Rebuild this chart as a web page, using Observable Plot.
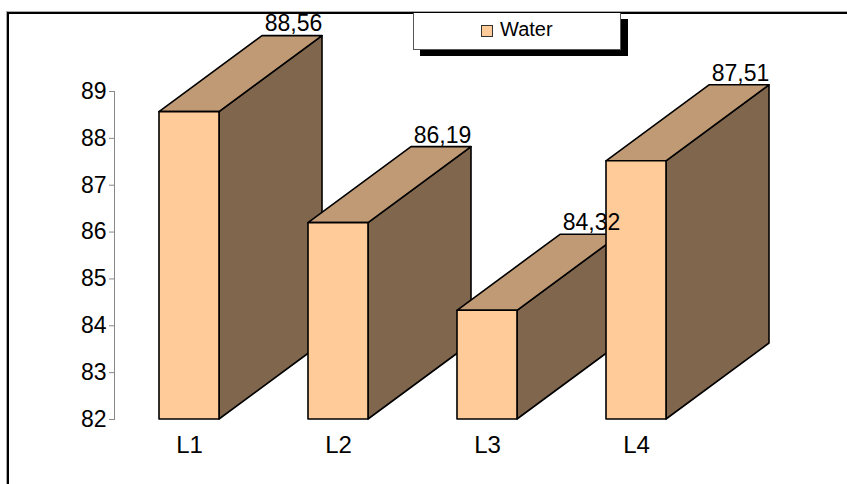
<!DOCTYPE html>
<html><head><meta charset="utf-8">
<script src="https://cdn.jsdelivr.net/npm/d3@7"></script>
<script src="https://cdn.jsdelivr.net/npm/@observablehq/plot@0.6"></script>
<style>
body{margin:0;background:#fff;font-family:"Liberation Sans",Arial,sans-serif;}
#wrap{position:relative;width:847px;height:484px;overflow:hidden;background:#fff;}
#chart{position:absolute;left:0;top:0;}
#frame{position:absolute;left:7px;top:12px;width:1000px;height:1000px;border-top:2px solid #000;border-left:2px solid #000;box-shadow:-1px -1px 0 #aaa;pointer-events:none;}
#legend{position:absolute;left:413px;top:13px;width:206px;height:36px;background:#fff;border:1px solid #555;border-top:none;box-shadow:7px 6px 0 #000;font-size:20px;color:#000;}
#legend .sw{position:absolute;left:67px;top:12px;width:10px;height:10px;background:#FFCC99;border:1px solid #333;}
#legend .lb{position:absolute;left:86px;top:5px;line-height:22px;}
</style></head>
<body>
<div id="wrap"><div id="chart"></div><div id="frame"></div><div id="legend"></div></div>
<script>
const categories = ["L1", "L2", "L3", "L4"];
const values = [88.56, 86.19, 84.32, 87.51];
const valueLabels = ["88,56", "86,19", "84,32", "87,51"];
const yTicks = [82, 83, 84, 85, 86, 87, 88, 89];
const seriesName = "Water";

const data = categories.map((c, i) => ({cat: c, value: values[i], label: valueLabels[i]}));

const lg = document.getElementById("legend");
lg.innerHTML = `<div class="sw"></div><div class="lb"></div>`;
lg.querySelector(".lb").textContent = seriesName;

const FRONT = "#FFCC99", TOP = "#C09A74", SIDE = "#80664D";
const DX = 103, DY = -76;

function render3D(index, scales, v) {
  const g = d3.create("svg:g");
  const bw = typeof scales.x.bandwidth === "function" ? scales.x.bandwidth() : scales.x.bandwidth;
  for (const i of index) {
    let x1, x2;
    if (v.x1 && v.x2) { x1 = Math.min(v.x1[i], v.x2[i]); x2 = Math.max(v.x1[i], v.x2[i]); }
    else { x1 = v.x[i]; x2 = x1 + bw; }
    const top = Math.min(v.y1[i], v.y2[i]), bot = Math.max(v.y1[i], v.y2[i]);
    const b = g.append("g").attr("stroke", "#000").attr("stroke-width", 1.6).attr("stroke-linejoin", "round");
    b.append("polygon").attr("fill", SIDE)
      .attr("points", [[x2, top], [x2 + DX, top + DY], [x2 + DX, bot + DY], [x2, bot]].join(" "));
    b.append("polygon").attr("fill", TOP)
      .attr("points", [[x1, top], [x2, top], [x2 + DX, top + DY], [x1 + DX, top + DY]].join(" "));
    b.append("rect").attr("fill", FRONT)
      .attr("x", x1).attr("y", top).attr("width", x2 - x1).attr("height", bot - top);
  }
  return g.node();
}

const plot = Plot.plot({
  width: 847,
  height: 484,
  marginLeft: 114,
  marginRight: 135.5,
  marginTop: 91,
  marginBottom: 65,
  style: {fontFamily: "'Liberation Sans', Arial, sans-serif", fontSize: "23px", color: "#000", background: "transparent", overflow: "visible"},
  x: {domain: categories, paddingInner: 0.6, paddingOuter: 0.298, label: null},
  y: {domain: [82, 89], label: null},
  marks: [
    Plot.barY(data, {x: "cat", y1: () => 82, y2: "value", render: render3D}),
    Plot.text(data, {x: "cat", y: "value", text: "label", dx: 104, dy: -88, fontSize: 23, fill: "#000"}),
    Plot.axisY({ticks: yTicks, tickSize: 5, tickPadding: 3, stroke: "#888", fontSize: 23, tickFormat: d => String(d)}),
    Plot.frame({anchor: "left", stroke: "#888"}),
    Plot.axisX({tickSize: 0, tickPadding: 16, fontSize: 24})
  ]
});
document.getElementById("chart").appendChild(plot);
</script>
</body></html>
